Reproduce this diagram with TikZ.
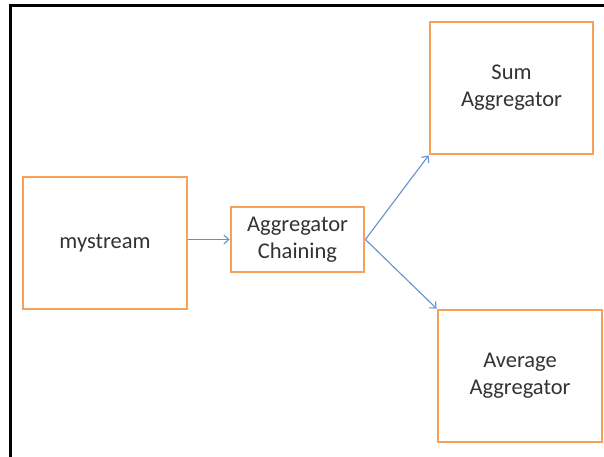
\documentclass[tikz,border=0pt]{standalone}
\usepackage{fontspec}
\setmainfont{Carlito}
\usepackage{xcolor}
\usetikzlibrary{arrows.meta}
\usetikzlibrary{positioning}

\definecolor{boxorange}{RGB}{247,160,90}
\definecolor{linkblue}{RGB}{100,145,205}

\tikzset{
    stagebox/.style={draw=boxorange, line width=2.8pt, fill=white, align=center,
        text=black!80, font=\fontsize{22.5}{27}\selectfont, inner sep=0pt},
    link/.style={draw=linkblue, line width=1.1pt, -{Straight Barb[length=5pt,width=9pt]}}
}

\begin{document}
\begin{tikzpicture}[x=1pt, y=-1pt]
    \useasboundingbox (0,0) rectangle (604,457);
    % frame, only top and left show
    \coordinate (framel) at (10,457);
    \coordinate (framec) at (10,6);
    \coordinate (framer) at (604,6);
    \draw[line width=3pt] (framel) -- (framec) -- (framer);

    \node[stagebox, minimum width=164pt, minimum height=132pt] (stream) at (105,243) {mystream};
    \node[stagebox, minimum width=133pt, minimum height=65pt] (chain) at (297.5,239.5) {Aggregator\\Chaining};
    \node[stagebox, minimum width=163pt, minimum height=132pt] (sum) at (511.5,88) {Sum\\Aggregator};
    \node[stagebox, minimum width=164pt, minimum height=132pt] (avg) at (520,376) {Average\\Aggregator};

    \draw[link] (stream.east |- chain.west) -- (chain.west);
    \draw[link] (chain.east) -- (sum.south west);
    \draw[link] (chain.east) -- (avg.north west);
\end{tikzpicture}
\end{document}
